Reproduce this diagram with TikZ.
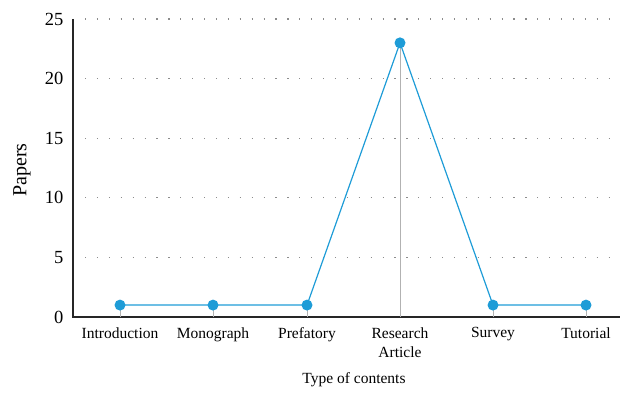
\documentclass[tikz,border=0pt]{standalone}
\usepackage{fontspec}
\setmainfont{Liberation Serif}
\usetikzlibrary{positioning}

\begin{document}
\begin{tikzpicture}
[x=1pt,y=1pt,
  axisLine/.style={-,line width=1.1pt,black!85},%
  gridLine/.style={-,line width=1.2pt,black!45,dash pattern=on 1.2pt off 10.7pt},%
  dropLine/.style={-,line width=1pt,black!30},%
  dataLine/.style={-,line width=1.2pt,draw={rgb,255:red,30;green,156;blue,215}},%
  dataPoint/.style={shape=circle,inner sep=0pt,minimum size=11pt,fill={rgb,255:red,30;green,156;blue,215}},%
  tickLabel/.style={font=\fontsize{18.5}{20}\selectfont,anchor=east},%
  catLabel/.style={font=\fontsize{15.5}{19}\selectfont,anchor=north,align=center}]
\useasboundingbox (0,0) rectangle (623,392);
%% axes and grid
\coordinate (origin) at (73,75);
\coordinate (ytop) at (73,373);
\coordinate (xend) at (620,75);
\foreach \v/\y in {5/134.6, 10/194.2, 15/253.8, 20/313.4, 25/373}
{
  \coordinate (g\v) at (85,\y);
  \coordinate (h\v) at (620,\y);
  \draw[gridLine] (g\v) -- (h\v);
}
\foreach \v/\y in {0/75, 5/134.6, 10/194.2, 15/253.8, 20/313.4, 25/373}
{
  \node[tickLabel] (t\v) at (67,\y) {\v};
}
\draw[axisLine] (ytop) -- (origin) -- (xend);
%% data points and drop lines
\foreach \nodename/\x/\v in {
  intro/120/1, mono/213/1, pref/307/1, res/400/23, surv/493/1, tut/586/1}
{
  \coordinate (b-\nodename) at (\x,75);
  \coordinate (p-\nodename) at (\x,{75+\v*11.92});
  \draw[dropLine] (b-\nodename) -- (p-\nodename);
}
%% category labels
\node[catLabel] (lintro) at (120,68) {Introduction};
\node[catLabel] (lmono) at (213,68) {Monograph};
\node[catLabel] (lpref) at (307,68) {Prefatory};
\node[catLabel] (lres) at (400,68) {Research\\Article};
\node[catLabel] (lsurv) at (493,68) {Survey};
\node[catLabel] (ltut) at (586,68) {Tutorial};
%% line
\draw[dataLine] (p-intro) -- (p-mono) -- (p-pref) -- (p-res) -- (p-surv) -- (p-tut);
\foreach \nodename in {intro, mono, pref, res, surv, tut}
{
  \node[dataPoint] (\nodename) at (p-\nodename) {};
}
%% axis titles
\node[font=\fontsize{20}{22}\selectfont,rotate=90] (ytitle) at (22,222) {Papers};
\node[font=\fontsize{15.5}{18}\selectfont] (xtitle) at (354,12) {Type of contents};
\end{tikzpicture}
\end{document}
